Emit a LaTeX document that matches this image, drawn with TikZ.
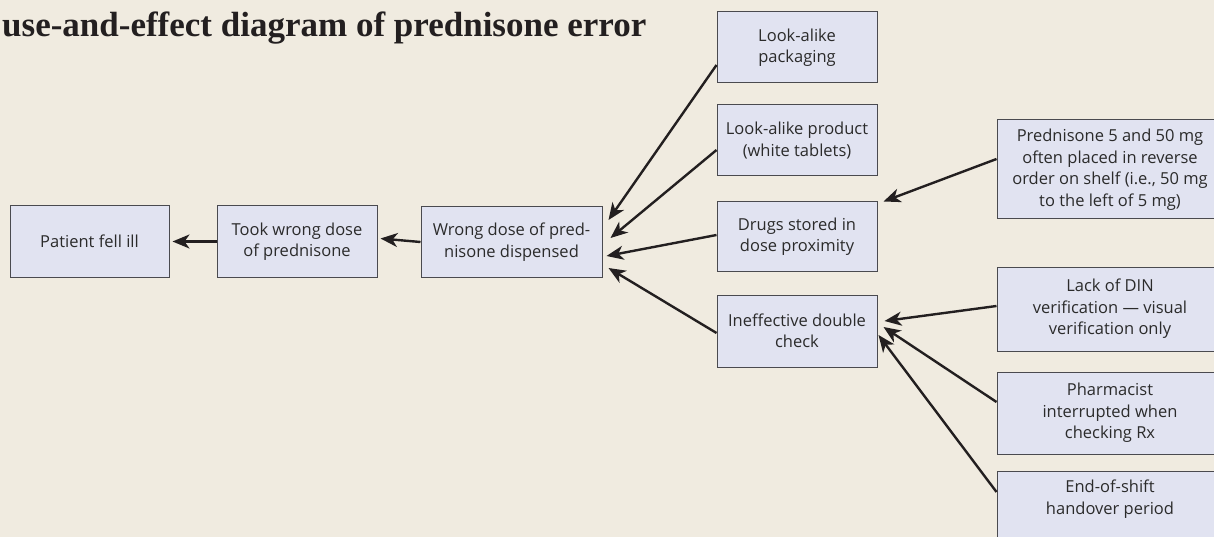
\documentclass[tikz,border=0pt]{standalone}
\usepackage{fontspec}
\setmainfont{Open Sans}
\newfontfamily\titlefont{Liberation Serif}
\usetikzlibrary{arrows.meta}
\definecolor{bgc}{HTML}{F0EBE0}
\definecolor{boxc}{HTML}{E1E3F1}
\definecolor{edgec}{HTML}{4A4A4F}
\definecolor{inkc}{HTML}{231F20}
\definecolor{txtc}{HTML}{2B2B2B}
\tikzset{
  cbox/.style={draw=edgec, line width=1pt, fill=boxc, align=center, inner sep=0pt,
    font=\fontsize{16.5}{21.5}\selectfont, text=txtc},
  arr/.style={draw=inkc, line width=2.4pt, -{Stealth[length=17pt,width=14pt,inset=5pt]}}
}
\begin{document}
\begin{tikzpicture}[x=1pt,y=1pt]
\fill[bgc] (0,0) rectangle (1214,-537);
\useasboundingbox (0,0) rectangle (1214,-537);
\node[anchor=base west, inner sep=0pt, text=inkc, font=\titlefont\bfseries\fontsize{35}{40}\selectfont] (title) at (2,-37) {use-and-effect diagram of prednisone error};
\node[cbox, minimum width=159pt, minimum height=71pt] (patient) at (89.5,-241.5) {Patient fell ill};
\node[cbox, minimum width=160pt, minimum height=71pt] (took) at (297,-241.5) {Took wrong dose\\of prednisone};
\node[cbox, minimum width=181pt, minimum height=71pt] (disp) at (511.5,-242) {Wrong dose of pred-\\nisone dispensed};
\node[cbox, minimum width=160pt, minimum height=71pt] (pack) at (797,-47.5) {Look-alike\\packaging};
\node[cbox, minimum width=160pt, minimum height=71pt] (prod) at (797,-140.5) {Look-alike product\\(white tablets)};
\node[cbox, minimum width=160pt, minimum height=69pt] (drugs) at (797,-236.5) {Drugs stored in\\dose proximity};
\node[cbox, minimum width=160pt, minimum height=72pt] (ineff) at (797,-331) {Ineffective double\\check};
\node[cbox, minimum width=226pt, minimum height=99pt] (pred) at (1110,-169.5) {Prednisone 5 and 50 mg\\often placed in reverse\\order on shelf (i.e., 50 mg\\to the left of 5 mg)};
\node[cbox, minimum width=226pt, minimum height=84pt] (din) at (1110,-309) {Lack of DIN\\verification --- visual\\verification only};
\node[cbox, minimum width=226pt, minimum height=82pt] (pharm) at (1110,-413) {Pharmacist\\interrupted when\\checking Rx};
\node[cbox, minimum width=226pt, minimum height=88pt, anchor=north] (shift) at (1110,-471) {\rule{0pt}{17pt}End-of-shift\\handover period\\[20pt]};
\draw[arr] (took.west) -- ([xshift=3pt]patient.east);
\draw[arr] (disp.west) -- ([xshift=3pt,yshift=3pt]took.east);
\draw[arr] ([yshift=-17.5pt]pack.west) -- ([xshift=6pt,yshift=22pt]disp.east);
\draw[arr] ([yshift=-9.5pt]prod.west) -- ([xshift=8pt,yshift=4pt]disp.east);
\draw[arr] ([yshift=1.5pt]drugs.west) -- ([xshift=4pt,yshift=-14pt]disp.east);
\draw[arr] ([yshift=-2pt]ineff.west) -- ([xshift=6pt,yshift=-26pt]disp.east);
\draw[arr] ([yshift=10.5pt]pred.west) -- ([xshift=6pt]drugs.north east);
\draw[arr] ([yshift=3pt]din.west) -- ([xshift=7pt,yshift=10pt]ineff.east);
\draw[arr] ([yshift=11pt]pharm.west) -- ([xshift=6pt,yshift=4pt]ineff.east);
\draw[arr] ([yshift=-21pt]shift.north west) -- ([xshift=1pt,yshift=-4pt]ineff.east);
\end{tikzpicture}
\end{document}
